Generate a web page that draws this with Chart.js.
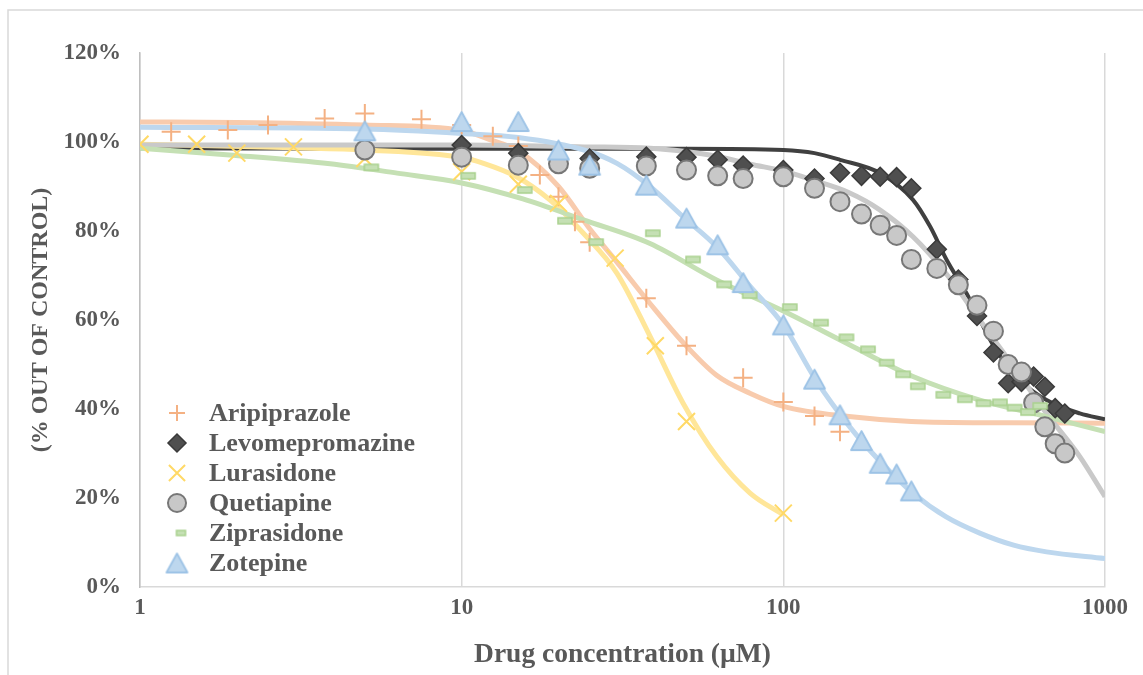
<!DOCTYPE html>
<html>
<head>
<meta charset="utf-8">
<script src="https://cdn.jsdelivr.net/npm/chart.js@4.4.1/dist/chart.umd.min.js"></script>
<style>
  html, body { margin: 0; padding: 0; background: #fff; }
</style>
</head>
<body>
<canvas id="mycanvas" width="1143" height="675"></canvas>
<script>
// measured cell viability, % of control, per drug concentration (uM)
var ariX = [1.25, 1.875, 2.5, 3.75, 5, 7.5, 10, 12.5, 15, 17.5, 20, 22.5, 25, 37.5, 50, 75, 100, 125, 150];
var ariY = [102.3, 102.7, 103.8, 105.3, 106.4, 105.1, 103.8, 101.3, 99.1, 92.6, 87.7, 82.1, 77.5, 64.9, 54.2, 47.0, 41.6, 38.4, 34.9];

var levoX = [10, 15, 25, 37.5, 50, 62.5, 75, 100, 125, 150, 175, 200, 225, 250, 300, 350, 400, 450, 500, 550, 600, 650, 700, 750];
var levoY = [99.3, 97.5, 96.3, 96.7, 96.6, 96.0, 94.7, 93.7, 91.8, 93.1, 92.4, 92.2, 92.1, 89.6, 75.9, 69.1, 60.9, 52.7, 45.8, 46.1, 47.3, 45.0, 40.2, 39.0];

var luraX = [1, 1.5, 2, 3, 5, 10, 15, 20, 30, 40, 50, 100];
var luraY = [99.5, 99.5, 97.5, 98.9, 96.3, 93.3, 90.5, 86.2, 73.9, 54.2, 37.2, 16.6];

var quetX = [5, 10, 15, 20, 25, 37.5, 50, 62.5, 75, 100, 125, 150, 175, 200, 225, 250, 300, 350, 400, 450, 500, 550, 600, 650, 700, 750];
var quetY = [98.2, 96.6, 94.8, 95.1, 94.1, 94.6, 93.7, 92.4, 91.8, 92.2, 89.6, 86.6, 83.8, 81.3, 79.0, 73.6, 71.6, 67.9, 63.3, 57.5, 50.0, 48.3, 41.4, 36.0, 32.2, 30.1];

var zipX = [5, 10, 15, 20, 25, 37.5, 50, 62.5, 75, 100, 125, 150, 175, 200, 225, 250, 300, 350, 400, 450, 500, 550, 600];
var zipY = [94.3, 92.4, 89.2, 82.3, 77.5, 79.5, 73.6, 68.0, 65.6, 62.9, 59.4, 56.1, 53.4, 50.4, 47.8, 45.1, 43.2, 42.2, 41.3, 41.5, 40.3, 39.3, 40.7];

var zotX = [5, 10, 15, 20, 25, 37.5, 50, 62.5, 75, 100, 125, 150, 175, 200, 225, 250];
var zotY = [102.5, 104.6, 104.6, 98.2, 94.8, 90.3, 82.9, 76.9, 68.4, 58.9, 46.7, 38.7, 32.9, 27.8, 25.4, 21.6];

// fitted dose-response curves
var ariFitX = [1, 2, 5, 10, 12.3, 15, 20, 25, 30, 38.5, 49, 62, 79, 100, 160, 250, 500, 1000];
var ariFitY = [104.5, 104.4, 103.8, 102.6, 100.5, 98.0, 90.0, 80.5, 73.5, 63.7, 54.8, 47.6, 43.5, 40.6, 38.3, 37.2, 36.9, 36.8];

var levoFitX = [1, 10, 50, 100, 125, 150, 200, 253, 286, 322, 371, 452, 544, 658, 835, 1000];
var levoFitY = [98.6, 98.5, 98.5, 98.2, 97.5, 96.0, 93.0, 87.0, 81.0, 73.5, 66.0, 54.0, 46.5, 42.0, 39.0, 37.7];

var luraFitX = [1, 3, 5, 10, 11.7, 14.8, 18.8, 23.9, 30.4, 38.6, 48.8, 62.1, 78.8, 100];
var luraFitY = [99.5, 98.7, 98.2, 96.5, 95.2, 92.2, 87.0, 79.5, 70.5, 56.2, 41.3, 29.3, 21.1, 16.2];

var quetFitX = [1, 10, 24, 38.5, 49, 62, 79, 100, 124, 159, 200, 253, 320, 408, 520, 658, 835, 1000];
var quetFitY = [99.3, 99.3, 98.9, 98.6, 97.9, 96.8, 95.0, 93.5, 91.4, 88.7, 84.7, 78.7, 70.5, 60.0, 49.5, 39.0, 29.3, 20.3];

var zipFitX = [1, 1.9, 3.9, 6.3, 10, 15.5, 23.9, 38.5, 62, 100, 160, 253, 408, 658, 1000];
var zipFitY = [98.6, 97.1, 95.1, 93.0, 90.8, 87.2, 82.5, 77.2, 69.0, 62.0, 54.5, 47.3, 42.0, 38.3, 34.9];

var zotFitX = [1, 5, 10, 15, 24, 30.4, 38.5, 48.8, 62, 79, 100, 126, 160, 200, 253, 320, 408, 520, 658, 1000];
var zotFitY = [103.3, 102.9, 101.9, 101.0, 98.2, 95.2, 90.0, 83.2, 76.5, 67.5, 58.9, 46.6, 36.2, 28.2, 21.1, 15.8, 12.1, 9.4, 7.9, 6.4];

var xTicks = [1, 10, 100, 1000];
var yTicks = [0, 20, 40, 60, 80, 100, 120];

var textColor = "#595959";
var serif = '"Liberation Serif", "Times New Roman", serif';

function pts(xs, ys) {
  return xs.map(function(x, i) { return { x: x, y: ys[i] }; });
}

// short green bar, drawn a little to the right of its point
function dashMarker(w, h, shift) {
  var c = document.createElement("canvas");
  c.width = Math.ceil(2 * (shift + w / 2) + 4);
  c.height = h + 4;
  var g = c.getContext("2d");
  var x0 = c.width / 2 + shift - w / 2;
  g.fillStyle = "#c5e0b4";
  g.strokeStyle = "#a9d18e";
  g.lineWidth = 1.5;
  g.beginPath();
  g.rect(x0, 2, w, h);
  g.fill();
  g.stroke();
  return c;
}

// triangle whose box is centred on the point
function triMarker(w, h) {
  var c = document.createElement("canvas");
  c.width = w + 4;
  c.height = h + 4;
  var g = c.getContext("2d");
  g.fillStyle = "#bdd7ee";
  g.strokeStyle = "#9dc3e6";
  g.lineWidth = 1.8;
  g.lineJoin = "round";
  g.beginPath();
  g.moveTo(2, h + 2);
  g.lineTo(c.width / 2, 2);
  g.lineTo(w + 2, h + 2);
  g.closePath();
  g.fill();
  g.stroke();
  return c;
}

var dashPlot = dashMarker(14, 6, 6.5);
var dashLegend = dashMarker(9, 5, 4);
var triPlot = triMarker(21, 19);

var series = [
  { label: "Aripiprazole", xs: ariX, ys: ariY, fx: ariFitX, fy: ariFitY,
    style: "cross", radius: 9.5, fill: "#f4b183", stroke: "#f4b183", bw: 2,
    curve: "#f8cbad", cw: 5 },
  { label: "Levomepromazine", xs: levoX, ys: levoY, fx: levoFitX, fy: levoFitY,
    style: "rectRot", radius: 9.5, fill: "#4f4f4f", stroke: "#3a3a3a", bw: 1.5,
    curve: "#404040", cw: 4 },
  { label: "Lurasidone", xs: luraX, ys: luraY, fx: luraFitX, fy: luraFitY,
    style: "crossRot", radius: 12, fill: "#ffd966", stroke: "#ffd966", bw: 2,
    curve: "#ffe699", cw: 5 },
  { label: "Quetiapine", xs: quetX, ys: quetY, fx: quetFitX, fy: quetFitY,
    style: "circle", radius: 9.5, fill: "#c8c8c8", stroke: "#777777", bw: 2,
    curve: "#c9c9c9", cw: 5 },
  { label: "Ziprasidone", xs: zipX, ys: zipY, fx: zipFitX, fy: zipFitY,
    style: dashPlot, legendStyle: dashLegend, radius: 8, fill: "#c5e0b4", stroke: "#a9d18e", bw: 1.5,
    curve: "#c5e0b4", cw: 5 },
  { label: "Zotepine", xs: zotX, ys: zotY, fx: zotFitX, fy: zotFitY,
    style: triPlot, radius: 10, fill: "#bdd7ee", stroke: "#9dc3e6", bw: 1.5,
    curve: "#bdd7ee", cw: 5 }
];

var datasets = [];
series.forEach(function(s, i) {
  // fitted curve below all markers
  datasets.push({
    label: s.label + " fit",
    data: pts(s.fx, s.fy),
    showLine: true,
    borderColor: s.curve,
    borderWidth: s.cw,
    pointRadius: 0,
    fill: false,
    cubicInterpolationMode: "monotone",
    order: 20 - i
  });
  datasets.push({
    label: s.label,
    data: pts(s.xs, s.ys),
    showLine: false,
    pointStyle: s.style,
    pointRadius: s.radius,
    pointBackgroundColor: s.fill,
    pointBorderColor: s.stroke,
    pointBorderWidth: s.bw,
    order: 10 - i
  });
});

var frame = {
  id: "frame",
  beforeDraw: function(chart) {
    var ctx = chart.ctx;
    ctx.save();
    ctx.fillStyle = "#ffffff";
    ctx.fillRect(0, 0, chart.width, chart.height);
    ctx.strokeStyle = "#d9d9d9";
    ctx.lineWidth = 1.5;
    ctx.strokeRect(8, 10, chart.width + 10, chart.height + 10);
    ctx.restore();
  }
};

var drugLegend = {
  id: "drugLegend",
  afterDraw: function(chart) {
    var ctx = chart.ctx;
    var x = 177, y = 413, step = 30;
    ctx.save();
    series.forEach(function(s, i) {
      var yy = y + i * step;
      ctx.fillStyle = s.fill;
      ctx.strokeStyle = s.stroke;
      ctx.lineWidth = s.bw;
      Chart.helpers.drawPoint(ctx, {
        pointStyle: s.legendStyle || s.style,
        radius: s.style === "cross" ? 8 : s.radius * 0.95,
        rotation: 0,
        borderWidth: s.bw
      }, x, yy);
      ctx.fillStyle = textColor;
      ctx.font = "bold 26px " + serif;
      ctx.textBaseline = "middle";
      ctx.textAlign = "left";
      ctx.fillText(s.label, 209, yy + 1);
    });
    ctx.restore();
  }
};

var ctx = document.getElementById("mycanvas");

var DoseChart = new Chart(ctx, {
  type: "line",
  data: { datasets: datasets },
  options: {
    responsive: false,
    animation: false,
    devicePixelRatio: 1,
    layout: { padding: { top: 53, right: 38, left: 0, bottom: 0 } },
    plugins: {
      legend: { display: false },
      tooltip: { enabled: false }
    },
    scales: {
      x: {
        type: "logarithmic",
        min: 1,
        max: 1000,
        afterBuildTicks: function(scale) {
          scale.ticks = xTicks.map(function(v) { return { value: v }; });
        },
        afterFit: function(scale) { scale.height = 88; },
        ticks: {
          autoSkip: false,
          maxRotation: 0,
          padding: 7,
          color: textColor,
          font: { family: serif, size: 23, weight: "bold" },
          callback: function(v) { return String(v); }
        },
        grid: { color: "#d9d9d9", lineWidth: 1.5, drawTicks: false },
        border: { color: "#d9d9d9", width: 1.5 },
        title: {
          display: true,
          text: "Drug concentration (\u00b5M)",
          color: textColor,
          font: { family: serif, size: 27.5, weight: "bold" },
          padding: { top: 0, bottom: 4 }
        }
      },
      y: {
        min: 0,
        max: 120,
        afterBuildTicks: function(scale) {
          scale.ticks = yTicks.map(function(v) { return { value: v }; });
        },
        afterFit: function(scale) { scale.width = 140; },
        ticks: {
          padding: 19,
          color: textColor,
          font: { family: serif, size: 23, weight: "bold" },
          callback: function(v) { return v + "%"; }
        },
        grid: { display: false, drawTicks: false },
        border: { color: "#bfbfbf", width: 1.5 },
        title: {
          display: true,
          text: "(% OUT OF CONTROL)",
          color: textColor,
          font: { family: serif, size: 24, weight: "bold" },
          padding: { top: 26, bottom: 0 }
        }
      }
    }
  },
  plugins: [frame, drugLegend]
});
</script>
</body>
</html>
